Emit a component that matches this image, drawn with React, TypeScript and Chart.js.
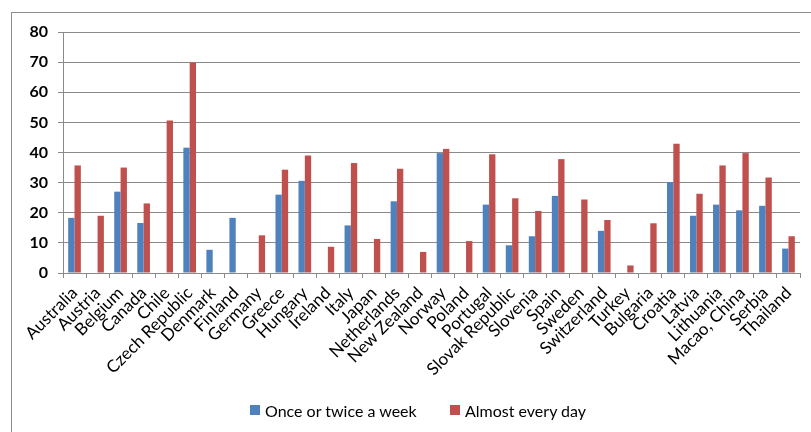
import React, { useEffect, useRef } from "react";
import { Chart, registerables } from "chart.js";

Chart.register(...registerables);

const categories = [
  "Australia", "Austria", "Belgium", "Canada", "Chile", "Czech Republic", "Denmark", "Finland",
  "Germany", "Greece", "Hungary", "Ireland", "Italy", "Japan", "Netherlands", "New Zealand",
  "Norway", "Poland", "Portugal", "Slovak Republic", "Slovenia", "Spain", "Sweden", "Switzerland",
  "Turkey", "Bulgaria", "Croatia", "Latvia", "Lithuania", "Macao, China", "Serbia", "Thailand",
];

const onceOrTwice = [
  18.3, null, 27.0, 16.6, null, 41.6, 7.7, 18.3,
  null, 26.0, 30.6, null, 15.8, null, 23.8, null,
  39.8, null, 22.7, 9.2, 12.2, 25.6, null, 14.0,
  null, null, 30.2, 19.0, 22.7, 20.8, 22.3, 8.1,
];

const almostEveryDay = [
  35.7, 19.0, 35.0, 23.1, 50.6, 69.9, null, null,
  12.5, 34.3, 39.0, 8.7, 36.5, 11.3, 34.6, 7.0,
  41.2, 10.6, 39.4, 24.8, 20.6, 37.8, 24.4, 17.6,
  2.5, 16.5, 42.9, 26.3, 35.7, 39.8, 31.7, 12.2,
];

const seriesNames = ["Once or twice a week", "Almost every day"];
const seriesColors = ["#4F81BD", "#C0504D"];
const yTicks = [0, 10, 20, 30, 40, 50, 60, 70, 80];

const FONT = "Lato, 'Open Sans', sans-serif";
const GRID = "#8a8a8a";

export default function App() {
  const ref = useRef<HTMLCanvasElement | null>(null);

  useEffect(() => {
    if (!ref.current) return;
    const chart = new Chart(ref.current, {
      type: "bar",
      data: {
        labels: categories,
        datasets: [
          {
            label: seriesNames[0],
            data: onceOrTwice,
            backgroundColor: seriesColors[0],
            borderWidth: 0,
            categoryPercentage: 0.55,
            barPercentage: 1,
          },
          {
            label: seriesNames[1],
            data: almostEveryDay,
            backgroundColor: seriesColors[1],
            borderWidth: 0,
            categoryPercentage: 0.55,
            barPercentage: 1,
          },
        ],
      },
      options: {
        animation: false,
        responsive: false,
        maintainAspectRatio: false,
        layout: { padding: { left: 0, right: 11, top: 32, bottom: 0 } },
        plugins: {
          tooltip: { enabled: false },
          legend: { display: false },
        },
        scales: {
          x: {
            offset: true,
            grid: {
              offset: true,
              drawOnChartArea: false,
              drawTicks: true,
              tickLength: 5,
              color: GRID,
            },
            border: { display: true, color: GRID, width: 1 },
            ticks: {
              autoSkip: false,
              minRotation: 45,
              maxRotation: 45,
              padding: 5,
              color: "#000",
              font: { family: FONT, size: 17 },
            },
            afterFit: (scale: any) => {
              scale.height = 159;
            },
          },
          y: {
            min: 0,
            max: 80,
            afterBuildTicks: (scale: any) => {
              scale.ticks = yTicks.map((v) => ({ value: v }));
            },
            grid: {
              color: GRID,
              tickLength: 5,
              drawTicks: true,
            },
            border: { display: true, color: GRID, width: 1 },
            ticks: {
              padding: 10,
              color: "#000",
              font: { family: FONT, size: 16, weight: "bold" },
            },
            afterFit: (scale: any) => {
              scale.width = 63;
            },
          },
        },
      },
    });
    return () => chart.destroy();
  }, []);

  const legendLefts = [250, 450];

  return (
    <div
      style={{
        position: "fixed",
        left: 0,
        top: 0,
        width: 811,
        height: 432,
        overflow: "hidden",
        background: "#fff",
      }}
    >
      <div
        style={{
          position: "absolute",
          left: 11,
          top: 12,
          width: 900,
          height: 600,
          border: "1px solid #8c8c8c",
          pointerEvents: "none",
        }}
      />
      <canvas ref={ref} width={811} height={432} style={{ position: "absolute", left: 0, top: 0 }} />
      {seriesNames.map((name, i) => (
        <div
          key={name}
          style={{
            position: "absolute",
            left: legendLefts[i],
            top: 400,
            height: 20,
            display: "flex",
            alignItems: "center",
            fontFamily: FONT,
            fontSize: 16,
            color: "#000",
            whiteSpace: "nowrap",
          }}
        >
          <span
            style={{
              display: "inline-block",
              width: 10,
              height: 10,
              background: seriesColors[i],
              marginRight: 5,
            }}
          />
          <span>{name}</span>
        </div>
      ))}
    </div>
  );
}
